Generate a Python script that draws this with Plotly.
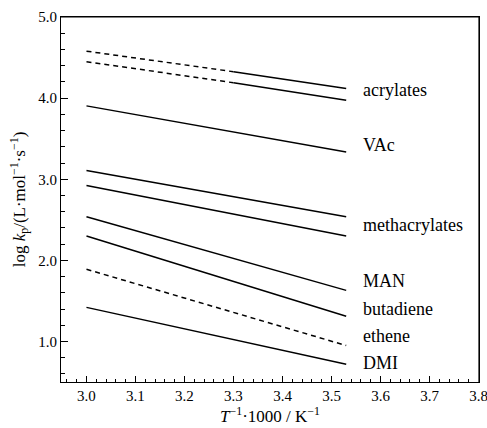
import plotly.graph_objects as go

# Data
x_start = 3.0
x_mid = 3.3
x_end = 3.53

series_names = ["acrylates_1", "acrylates_2", "VAc", "methacrylates_1", "methacrylates_2",
                "MAN", "butadiene", "ethene", "DMI"]
y_start = [4.58, 4.45, 3.905, 3.108, 2.922, 2.538, 2.30, 1.89, 1.42]
y_end = [4.12, 3.975, 3.335, 2.538, 2.30, 1.63, 1.31, 0.95, 0.72]
# value at x_mid for the acrylates (dashed -> solid transition)
acryl_mid = [4.326, 4.19]

label_texts = ["acrylates", "VAc", "methacrylates", "MAN", "butadiene", "ethene", "DMI"]
label_y = [4.10, 3.42, 2.43, 1.745, 1.40, 1.065, 0.73]
label_x = 3.56

x_tickvals = [3.0, 3.1, 3.2, 3.3, 3.4, 3.5, 3.6, 3.7, 3.8]
y_tickvals = [1.0, 2.0, 3.0, 4.0, 5.0]

FONT = "Liberation Serif"
lw = 1.5
dash = "5px,4px"

fig = go.Figure()

# acrylates: dashed then solid
for i in range(2):
    fig.add_trace(go.Scatter(x=[x_start, x_mid], y=[y_start[i], acryl_mid[i]], mode="lines",
                             line=dict(color="black", width=lw, dash=dash), showlegend=False))
    fig.add_trace(go.Scatter(x=[x_mid, x_end], y=[acryl_mid[i], y_end[i]], mode="lines",
                             line=dict(color="black", width=lw), showlegend=False))

for i in range(2, len(series_names)):
    d = dash if series_names[i] == "ethene" else "solid"
    fig.add_trace(go.Scatter(x=[x_start, x_end], y=[y_start[i], y_end[i]], mode="lines",
                             line=dict(color="black", width=lw, dash=d), showlegend=False))

for t, yy in zip(label_texts, label_y):
    fig.add_annotation(x=label_x, y=yy, text=t, showarrow=False, xanchor="left", yanchor="middle",
                       font=dict(family=FONT, size=18, color="black"))

# frame (top and right edges)
fig.add_shape(type="line", xref="paper", yref="paper", x0=0, x1=1, y0=1, y1=1,
              line=dict(color="black", width=1.2), layer="above")
fig.add_shape(type="line", xref="paper", yref="paper", x0=1, x1=1, y0=0, y1=1,
              line=dict(color="black", width=1.2), layer="above")

fig.update_layout(
    width=487, height=428,
    margin=dict(l=61, r=8, t=17, b=46),
    paper_bgcolor="white", plot_bgcolor="white",
    font=dict(family=FONT, size=15, color="black"),
    showlegend=False,
)
fig.update_xaxes(
    range=[2.948, 3.801], tickvals=x_tickvals, ticktext=[f"{v:.1f}" for v in x_tickvals],
    ticks="inside", ticklen=6, tickwidth=1, tickcolor="black",
    minor=dict(dtick=0.02, tick0=3.0, ticks="inside", ticklen=3, tickwidth=1, tickcolor="black", showgrid=False),
    showline=True, linecolor="black", linewidth=1, mirror=True, showgrid=False, zeroline=False,
    automargin=False, ticklabeloverflow="allow",
    title=dict(text="<i>T</i><sup>−1</sup>·1000 / K<sup>−1</sup>", font=dict(family=FONT, size=17), standoff=7),
    tickfont=dict(family=FONT, size=15),
)
fig.update_yaxes(
    range=[0.5, 5.001], tickvals=y_tickvals, ticktext=[f"{v:.1f}" for v in y_tickvals],
    ticks="inside", ticklen=7, tickwidth=1, tickcolor="black",
    minor=dict(dtick=0.2, tick0=0.0, ticks="inside", ticklen=4, tickwidth=1, tickcolor="black", showgrid=False),
    showline=True, linecolor="black", linewidth=1, mirror=True, showgrid=False, zeroline=False,
    automargin=False, ticklabeloverflow="allow",
    title=dict(text="log <i>k</i><sub>p</sub>/(L·mol<sup>−1</sup>·s<sup>−1</sup>)", font=dict(family=FONT, size=17), standoff=8),
    tickfont=dict(family=FONT, size=15),
)

fig.write_html("out.html", config={"displayModeBar": False},
               post_script="document.body.style.margin='0px';")
